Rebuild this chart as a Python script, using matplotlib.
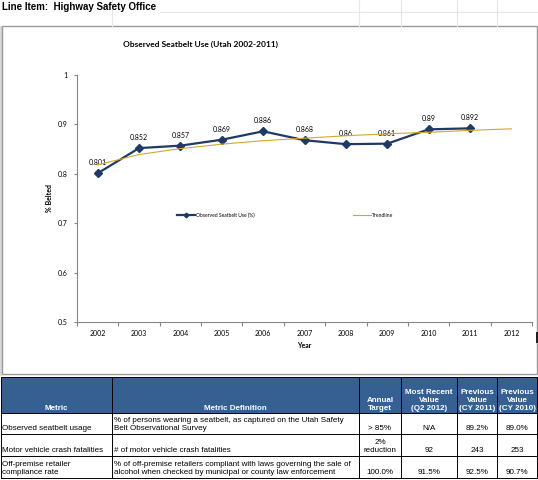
import numpy as np
import matplotlib.pyplot as plt
from matplotlib.patches import Rectangle

# chart data
years = ["2002", "2003", "2004", "2005", "2006", "2007", "2008", "2009", "2010", "2011", "2012"]
belted = [0.801, 0.852, 0.857, 0.869, 0.886, 0.868, 0.86, 0.861, 0.89, 0.892]
trend = [0.818, 0.839, 0.851, 0.860, 0.867, 0.872, 0.877, 0.881, 0.884, 0.888, 0.891]
y_ticks = [0.5, 0.6, 0.7, 0.8, 0.9, 1.0]
y_tick_labels = ["0.5", "0.6", "0.7", "0.8", "0.9", "1"]

# table data
headers = ["Metric", "Metric Definition", "Annual\nTarget", "Most Recent\nValue\n(Q2 2012)",
           "Previous\nValue\n(CY 2011)", "Previous\nValue\n(CY 2010)"]
metrics = ["Observed seatbelt usage", "Motor vehicle crash fatalities",
           "Off-premise retailer\ncompliance rate"]
definitions = ["% of persons wearing a seatbelt, as captured on the Utah Safety\nBelt Observational Survey",
               "# of motor vehicle crash fatalities",
               "% of off-premise retailers compliant with laws governing the sale of\nalcohol when checked by municipal or county law enforcement"]
targets = ["> 85%", "2%\nreduction", "100.0%"]
recent = ["N/A", "92", "91.5%"]
prev_2011 = ["89.2%", "243", "92.5%"]
prev_2010 = ["89.0%", "253", "90.7%"]

W, H = 538, 480
NAVY = "#1f3a68"
GOLD = "#d4a72c"
CHART_FONT = ["Lato", "DejaVu Sans"]
TABLE_FONT = ["Liberation Sans", "DejaVu Sans"]

fig = plt.figure(figsize=(W / 100, H / 100), dpi=100)

# background layer in pixel coordinates
bg = fig.add_axes([0, 0, 1, 1])
bg.set_xlim(0, W)
bg.set_ylim(H, 0)
bg.axis("off")

col_edges = [0.5, 112, 359, 401, 457, 497, 537]
row_edges = [377, 413, 434, 456, 478]

# faint spreadsheet grid above the chart
for x in col_edges[1:-1]:
    bg.plot([x, x], [0, 26], color="#e6e6e6", lw=0.8)
bg.plot([160, W], [12, 12], color="#e6e6e6", lw=0.8)

bg.text(2, 7, "Line Item:  Highway Safety Office", fontsize=7, fontweight="bold",
        family=TABLE_FONT, va="center", ha="left")

# chart frame
bg.add_patch(Rectangle((0, 26), 2, 350, color="#d9d9d9", lw=0))
bg.add_patch(Rectangle((2, 26), 535, 348, facecolor="white", edgecolor="#9a9a9a", lw=1))
bg.add_patch(Rectangle((535.5, 332), 2.5, 11, color="#202020", lw=0))

# table
bg.add_patch(Rectangle((col_edges[0], row_edges[0]), col_edges[-1] - col_edges[0],
                       row_edges[1] - row_edges[0], color="#366092", lw=0))
for x in col_edges:
    bg.plot([x, x], [row_edges[0], row_edges[-1]], color="black", lw=0.7)
for y in row_edges:
    bg.plot([col_edges[0], col_edges[-1]], [y, y], color="black", lw=0.7)

for j, h in enumerate(headers):
    cx = (col_edges[j] + col_edges[j + 1]) / 2
    bg.text(cx, row_edges[1] - 1.5, h, ha="center", va="bottom", color="white",
            fontsize=5.8, fontweight="bold", family=TABLE_FONT, linespacing=1.2)

rows = list(zip(metrics, definitions, targets, recent, prev_2011, prev_2010))
for i, row in enumerate(rows):
    yb = row_edges[i + 2] - 1.5
    for j, val in enumerate(row):
        if j < 2:
            x, ha = col_edges[j] + 2, "left"
        else:
            x, ha = (col_edges[j] + col_edges[j + 1]) / 2, "center"
        bg.text(x, yb, val, ha=ha, va="bottom", fontsize=5.8, family=TABLE_FONT,
                linespacing=1.2, color="black")

# line chart
ax = fig.add_axes([77 / W, (H - 322) / H, (532 - 77) / W, (322 - 75) / H])
ax.set_facecolor("none")
xs = np.arange(len(years))
ax.plot(xs[:len(belted)], belted, color=NAVY, lw=1.6, marker="D", ms=4,
        label="Observed Seatbelt Use (%)", zorder=3)
ax.plot(xs, trend, color=GOLD, lw=0.8, label="Trendline", zorder=4)

for x, v in zip(xs, belted):
    ax.annotate(f"{v:g}", (x, v), xytext=(0, 7.5), textcoords="offset points",
                ha="center", va="center", fontsize=5, family=CHART_FONT)

ax.set_xlim(-0.5, len(years) - 0.5)
ax.set_ylim(0.5, 1.0)
ax.set_xticks(np.arange(-0.5, len(years), 1))
ax.set_xticklabels([])
ax.set_xticks(xs, minor=True)
ax.set_xticklabels(years, minor=True, fontsize=5, family=CHART_FONT)
ax.set_yticks(y_ticks)
ax.set_yticklabels(y_tick_labels, fontsize=5, family=CHART_FONT)
ax.tick_params(axis="x", which="major", length=3, color="#868686", direction="out")
ax.tick_params(axis="x", which="minor", length=0, pad=5.5)
ax.tick_params(axis="y", length=2.5, color="#868686", direction="out", pad=4)
for s in ["top", "right"]:
    ax.spines[s].set_visible(False)
for s in ["left", "bottom"]:
    ax.spines[s].set_color("#868686")
    ax.spines[s].set_linewidth(0.8)

leg = ax.legend(loc="center left", bbox_to_anchor=((177 - 77) / 455, (322 - 215) / 247),
                ncol=2, frameon=False, borderpad=0, borderaxespad=0, markerscale=0.6,
                handlelength=3.6, handletextpad=0.3, columnspacing=19.5,
                prop={"family": CHART_FONT, "size": 3.6})

fig.text(200 / W, 1 - 44 / H, "Observed Seatbelt Use (Utah 2002-2011)", ha="center", va="center",
         fontsize=6, fontweight="bold", family=CHART_FONT)
fig.text(304 / W, 1 - 346 / H, "Year", ha="center", va="center", fontsize=5,
         fontweight="bold", family=CHART_FONT)
fig.text(50 / W, 1 - 198 / H, "% Belted", ha="center", va="center", rotation=90,
         fontsize=5, fontweight="bold", family=CHART_FONT)

fig.savefig("out.png", dpi=100)
